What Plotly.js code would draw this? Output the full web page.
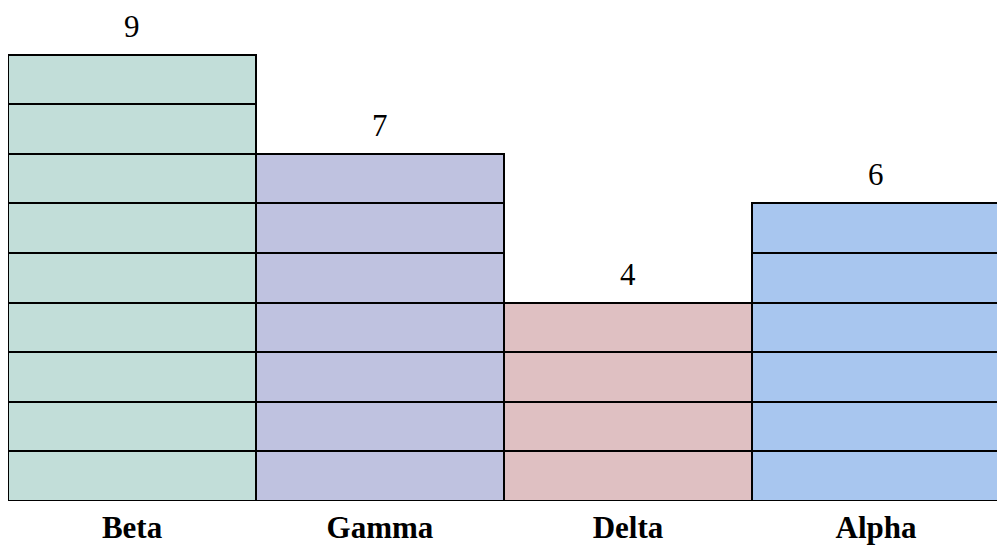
<!DOCTYPE html>
<html><head><meta charset="utf-8">
<script src="https://cdn.plot.ly/plotly-3.0.1.min.js"></script>
<style>html,body{margin:0;padding:0;background:#fff}#chart{width:997px;height:546px}</style>
</head><body><div id="chart"></div>
<script>
const categories = ["Beta", "Gamma", "Delta", "Alpha"];
const values = [9, 7, 4, 6];
const colors = ["#c2ded9", "#bfc2e0", "#dfc0c2", "#a8c6ef"];

const serif = '"Liberation Serif", "Times New Roman", Times, serif';
const maxV = Math.max(...values);
const traces = [];
for (let k = 1; k <= maxV; k++) {
  traces.push({
    type: "bar",
    x: categories,
    y: values.map(v => (v >= k ? 1 : 0)),
    marker: { color: colors, line: { color: "#000", width: 2 } },
    width: 1,
    hoverinfo: "skip",
    showlegend: false
  });
}

const annotations = categories.map((c, i) => ({
  x: c, y: values[i], xref: "x", yref: "y",
  text: String(values[i]), showarrow: false,
  yanchor: "bottom", yshift: 9,
  font: { family: serif, size: 31, color: "#000" }
}));

const layout = {
  width: 997, height: 546,
  margin: { l: 8, r: 0, t: 5, b: 45, pad: 0 },
  barmode: "stack", bargap: 0,
  paper_bgcolor: "#fff", plot_bgcolor: "#fff",
  xaxis: {
    type: "category", range: [-0.5, 3.488],
    showgrid: false, zeroline: false, showline: false,
    ticks: "", ticklen: 0, ticklabelstandoff: 5,
    tickfont: { family: serif, size: 31, color: "#000", weight: "bold" }
  },
  yaxis: {
    range: [0, 10], visible: false, showgrid: false, zeroline: false
  },
  annotations: annotations
};

Plotly.newPlot("chart", traces, layout, { displayModeBar: false, staticPlot: true });
</script>
</body></html>
